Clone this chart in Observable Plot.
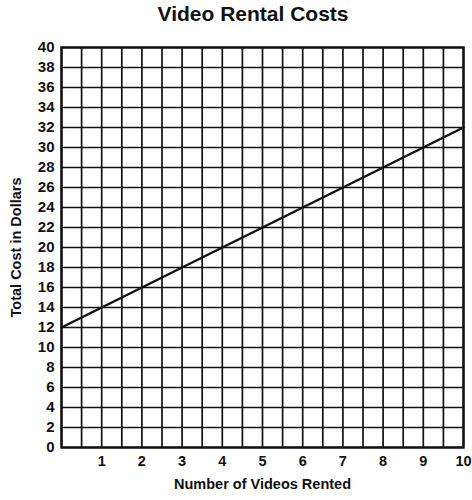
<!DOCTYPE html>
<html>
<head>
<meta charset="utf-8">
<script src="https://cdn.jsdelivr.net/npm/d3@7"></script>
<script src="https://cdn.jsdelivr.net/npm/@observablehq/plot@0.6"></script>
<style>
  html, body { margin: 0; padding: 0; background: #fff; }
  #title { width: 472px; height: 30px; box-sizing: border-box; padding-left: 34px; text-align: center;
           font-family: "Liberation Sans", Arial, sans-serif; font-weight: bold; font-size: 21px;
           line-height: 28px; color: #111; }
</style>
</head>
<body>
<div id="title">Video Rental Costs</div>
<div id="chart"></div>
<script>
const titleText = "Video Rental Costs";
const xLabel = "Number of Videos Rented";
const yLabel = "Total Cost in Dollars";
const videos = [0, 1, 2, 3, 4, 5, 6, 7, 8, 9, 10];
const costs = [12, 14, 16, 18, 20, 22, 24, 26, 28, 30, 32];
const xTicks = [1, 2, 3, 4, 5, 6, 7, 8, 9, 10];
const yTicks = [0, 2, 4, 6, 8, 10, 12, 14, 16, 18, 20, 22, 24, 26, 28, 30, 32, 34, 36, 38, 40];
const xGrid = d3.range(0, 10.01, 0.5);

const data = videos.map((v, i) => ({videos: v, cost: costs[i]}));

const chart = Plot.plot({
  width: 472,
  height: 470,
  marginTop: 17,
  marginBottom: 53,
  marginLeft: 61,
  marginRight: 9,
  style: {fontFamily: "Liberation Sans, Arial, sans-serif", fontSize: "14px", color: "#111", background: "#fff"},
  x: {domain: [0, 10]},
  y: {domain: [0, 40]},
  marks: [
    Plot.gridX(xGrid, {stroke: "#111", strokeOpacity: 1, strokeWidth: 1.7}),
    Plot.gridY(yTicks, {stroke: "#111", strokeOpacity: 1, strokeWidth: 1.7}),
    Plot.frame({stroke: "#111", strokeWidth: 2.4}),
    Plot.axisX(xTicks, {tickSize: 0, tickPadding: 8, fontSize: 14.5, fontWeight: "bold", label: null}),
    Plot.axisY(yTicks, {tickSize: 0, tickPadding: 7, fontSize: 15, fontWeight: "bold", label: null}),
    Plot.axisX(xTicks, {tickSize: 0, text: null, label: xLabel, labelAnchor: "center", labelArrow: "none", labelOffset: 41, fontSize: 14.5, fontWeight: "bold"}),
    Plot.axisY(yTicks, {tickSize: 0, text: null, label: yLabel, labelAnchor: "center", labelArrow: "none", labelOffset: 51, fontSize: 14.5, fontWeight: "bold"}),
    Plot.line(data, {x: "videos", y: "cost", stroke: "#111", strokeWidth: 2.5})
  ]
});
document.getElementById("chart").appendChild(chart);
</script>
</body>
</html>
